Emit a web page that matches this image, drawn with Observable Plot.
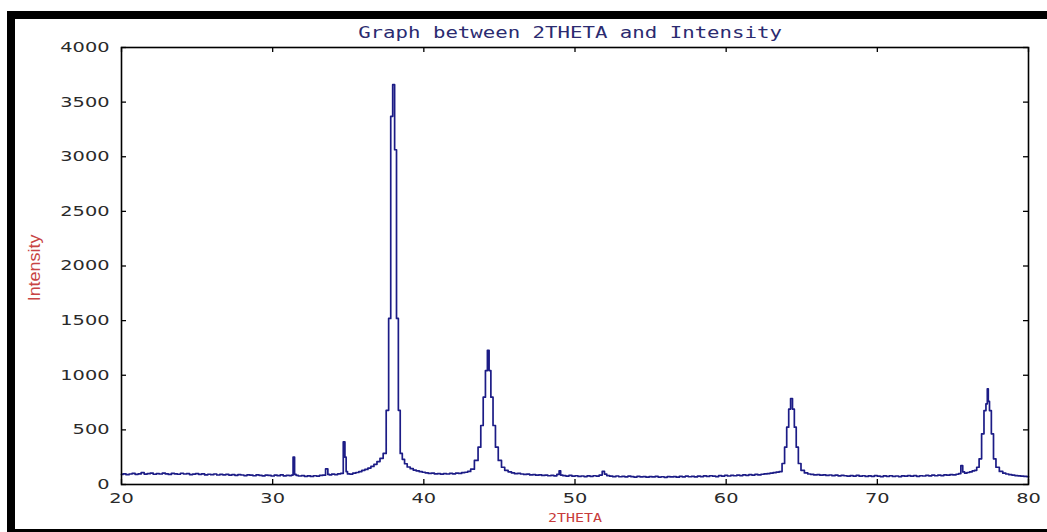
<!DOCTYPE html>
<html>
<head>
<meta charset="utf-8">
<script src="https://cdn.jsdelivr.net/npm/d3@7"></script>
<script src="https://cdn.jsdelivr.net/npm/@observablehq/plot@0.6"></script>
<style>
  html, body { margin: 0; padding: 0; background: #fff; overflow: hidden; width: 1047px; height: 532px; }
  #chart { position: absolute; left: 0; top: 0; }
  #border { position: absolute; left: 7px; top: 11px; width: 1040px; height: 510px;
            border-top: 8px solid #000; border-left: 8px solid #000; border-bottom: 8px solid #000;
            pointer-events: none; }
</style>
</head>
<body>
<div id="chart"></div>
<div id="border"></div>
<script>
// ---- data: [2theta, intensity] ----
const lowAngle = [[20.0,92],[20.2,98],[20.4,90],[20.6,96],[20.8,101],[21.0,93],[21.2,97],[21.4,108],[21.6,95],[21.8,99],[22.0,104],[22.2,94],[22.4,100],[22.6,96],[22.8,105],[23.0,97],[23.2,92],[23.4,101],[23.6,98],[23.8,94],[24.0,103],[24.2,96],[24.4,99],[24.6,91],[24.8,95],[25.0,100],[25.2,93],[25.4,97],[25.6,88],[25.8,94],[26.0,90],[26.2,96],[26.4,87],[26.6,92],[26.8,89],[27.0,93],[27.2,86],[27.4,90],[27.6,84],[27.8,91],[28.0,87],[28.2,82],[28.4,88],[28.6,85],[28.8,80],[29.0,89],[29.2,84],[29.4,79],[29.6,86],[29.8,83],[30.0,78],[30.2,85],[30.4,81],[30.6,88],[30.8,79],[31.0,84],[31.2,82]];
const smallPeaks = [[31.3,86],[31.4,250],[31.5,92],[31.6,84],[31.8,78],[32.0,82],[32.2,75],[32.4,79],[32.6,74],[32.8,80],[33.0,77],[33.2,83],[33.4,85],[33.6,143],[33.7,92],[33.8,88],[34.0,95],[34.2,91],[34.4,98],[34.6,102],[34.74,390],[34.82,250],[34.9,118],[35.0,97],[35.2,95],[35.4,104],[35.6,110],[35.8,118],[36.0,130],[36.2,138],[36.4,150],[36.6,165],[36.8,185],[37.0,210],[37.2,240]];
const peak38 = [[37.42,284],[37.6,679],[37.745,1520],[37.875,3370],[38.005,3660],[38.13,3064],[38.255,1520],[38.375,679],[38.5,284],[38.65,230],[38.8,190],[39.0,160],[39.2,145],[39.4,132],[39.6,124],[39.8,117],[40.0,112],[40.2,106],[40.4,101],[40.6,104],[40.8,97],[41.0,100],[41.2,95],[41.4,99],[41.6,96],[41.8,102],[42.0,98],[42.2,104],[42.4,101],[42.6,108],[42.8,112],[43.0,120]];
const peak44 = [[43.2,140],[43.49,220],[43.685,342],[43.85,540],[44.005,799],[44.145,1043],[44.265,1229],[44.37,1043],[44.5,799],[44.655,540],[44.82,342],[45.025,220],[45.25,158],[45.45,130],[45.7,116],[45.9,106]];
const midAngle = [[46.1,99],[46.3,101],[46.5,96],[46.7,92],[46.9,95],[47.1,88],[47.3,91],[47.5,85],[47.7,89],[47.9,83],[48.1,86],[48.3,80],[48.5,84],[48.7,79],[48.9,92],[49.0,125],[49.1,86],[49.3,81],[49.5,77],[49.7,83],[49.9,76],[50.1,80],[50.3,74],[50.5,78],[50.7,73],[50.9,79],[51.1,75],[51.3,80],[51.5,77],[51.7,86],[51.9,120],[52.0,95],[52.2,82],[52.4,76],[52.6,72],[52.8,78],[53.0,71],[53.2,75],[53.4,70],[53.6,76],[53.8,72],[54.0,68],[54.2,74],[54.4,70],[54.6,73],[54.8,67],[55.0,72],[55.2,69],[55.4,74],[55.6,68],[55.8,71],[56.0,66],[56.2,73],[56.4,69],[56.6,72],[56.8,67],[57.0,74],[57.2,70],[57.4,76],[57.6,71],[57.8,75],[58.0,69],[58.2,77],[58.4,73],[58.6,79],[58.8,74],[59.0,80],[59.2,76],[59.4,73],[59.6,81],[59.8,77],[60.0,83],[60.2,78],[60.4,84],[60.6,80],[60.8,86],[61.0,82],[61.2,88],[61.4,84],[61.6,90],[61.8,86],[62.0,92],[62.2,88],[62.4,94],[62.6,97],[62.8,100],[63.0,104],[63.2,108],[63.4,113]];
const peak64 = [[63.6,118],[63.795,192],[63.935,342],[64.075,525],[64.2,690],[64.325,787],[64.45,690],[64.57,525],[64.7,342],[64.85,192],[65.05,130],[65.3,106],[65.5,96],[65.7,92]];
const highAngle = [[65.9,88],[66.1,91],[66.3,85],[66.5,89],[66.7,83],[66.9,87],[67.1,81],[67.3,85],[67.5,79],[67.7,84],[67.9,80],[68.1,76],[68.3,82],[68.5,77],[68.7,83],[68.9,76],[69.1,80],[69.3,74],[69.5,79],[69.7,75],[69.9,81],[70.1,77],[70.3,73],[70.5,79],[70.7,75],[70.9,80],[71.1,74],[71.3,78],[71.5,73],[71.7,79],[71.9,76],[72.1,82],[72.3,77],[72.5,81],[72.7,75],[72.9,80],[73.1,78],[73.3,84],[73.5,79],[73.7,85],[73.9,80],[74.1,86],[74.3,82],[74.5,88],[74.7,85],[74.9,91],[75.1,88],[75.3,94],[75.45,100],[75.6,172],[75.7,115],[75.85,104],[76.0,110],[76.2,116],[76.35,124],[76.5,130],[76.65,158],[76.815,235],[76.98,464],[77.13,677],[77.24,738],[77.31,876],[77.37,760],[77.47,677],[77.615,464],[77.755,235],[77.94,158],[78.2,120],[78.4,104],[78.6,96],[78.8,90],[79.0,86],[79.2,82],[79.4,79],[79.6,76],[79.8,74],[80.0,72]];

const xTicks = [20, 30, 40, 50, 60, 70, 80];
const yTicks = [0, 500, 1000, 1500, 2000, 2500, 3000, 3500, 4000];
const titleText = "Graph between 2THETA and Intensity";
const xLabel = "2THETA";
const yLabel = "Intensity";

const scan = [...lowAngle, ...smallPeaks, ...peak38, ...peak44, ...midAngle, ...peak64, ...highAngle];

const W = 1047, H = 532;
const mL = 121, mR = 19, mT = 47, mB = 48;
const frameW = W - mL - mR, frameH = H - mT - mB;
const tickLen = 5;

const chart = Plot.plot({
  width: W, height: H,
  marginLeft: mL, marginRight: mR, marginTop: mT, marginBottom: mB,
  x: {domain: [20, 80]},
  y: {domain: [0, 4000]},
  style: {background: "transparent", fontFamily: "DejaVu Sans", fontSize: "14px", color: "#2a2a2a"},
  marks: [
    Plot.axisX(xTicks, {tickSize: 0, tickPadding: 9, label: null, tickFormat: d => `${d}`, fontSize: 14, fontFamily: "DejaVu Sans", fill: "#2a2a2a"}),
    Plot.axisY(yTicks, {tickSize: 0, tickPadding: 12, label: null, tickFormat: d => `${d}`, fontSize: 14, fontFamily: "DejaVu Sans", fill: "#2a2a2a"}),
    Plot.tickX(xTicks, {x: d => d, insetTop: frameH - tickLen, stroke: "#000", strokeWidth: 1.3}),
    Plot.tickX(xTicks, {x: d => d, insetBottom: frameH - tickLen, stroke: "#000", strokeWidth: 1.3}),
    Plot.tickY(yTicks, {y: d => d, insetRight: frameW - tickLen, stroke: "#000", strokeWidth: 1.3}),
    Plot.tickY(yTicks, {y: d => d, insetLeft: frameW - tickLen, stroke: "#000", strokeWidth: 1.3}),
    Plot.line(scan, {x: d => d[0], y: d => d[1], curve: "step", stroke: "#1c1c86", strokeWidth: 1.7}),
    Plot.frame({stroke: "#000", strokeWidth: 1.6}),
    Plot.text([titleText], {text: d => d, frameAnchor: "top", textAnchor: "middle", lineAnchor: "middle", dy: -14, dx: -5, fill: "#2b2b70", fontFamily: "DejaVu Sans Mono", fontSize: 15}),
    Plot.text([xLabel], {text: d => d, frameAnchor: "bottom", textAnchor: "middle", lineAnchor: "middle", dy: 33, fill: "#c83c3c", fontFamily: "DejaVu Sans Mono", fontSize: 13}),
    Plot.text([yLabel], {text: d => d, frameAnchor: "left", textAnchor: "middle", lineAnchor: "middle", dx: -87, dy: 2, rotate: -90, fill: "#c84444", fontFamily: "Liberation Sans", fontSize: 16})
  ]
});
document.getElementById("chart").append(chart);

// horizontally stretched glyphs (as in the reference raster) via textLength
function stretchText(el, sx) {
  const w = el.getComputedTextLength();
  if (w > 0) {
    el.setAttribute("textLength", (w * sx).toFixed(1));
    el.setAttribute("lengthAdjust", "spacingAndGlyphs");
  }
}
d3.select(chart).selectAll("text").each(function() {
  const s = this.textContent;
  if (s === titleText) stretchText(this, 1.38);
  else if (s === xLabel) stretchText(this, 1.15);
  else if (s === yLabel) stretchText(this, 1.12);
  else if (/^\d+$/.test(s)) stretchText(this, 1.38);
});
</script>
</body>
</html>
